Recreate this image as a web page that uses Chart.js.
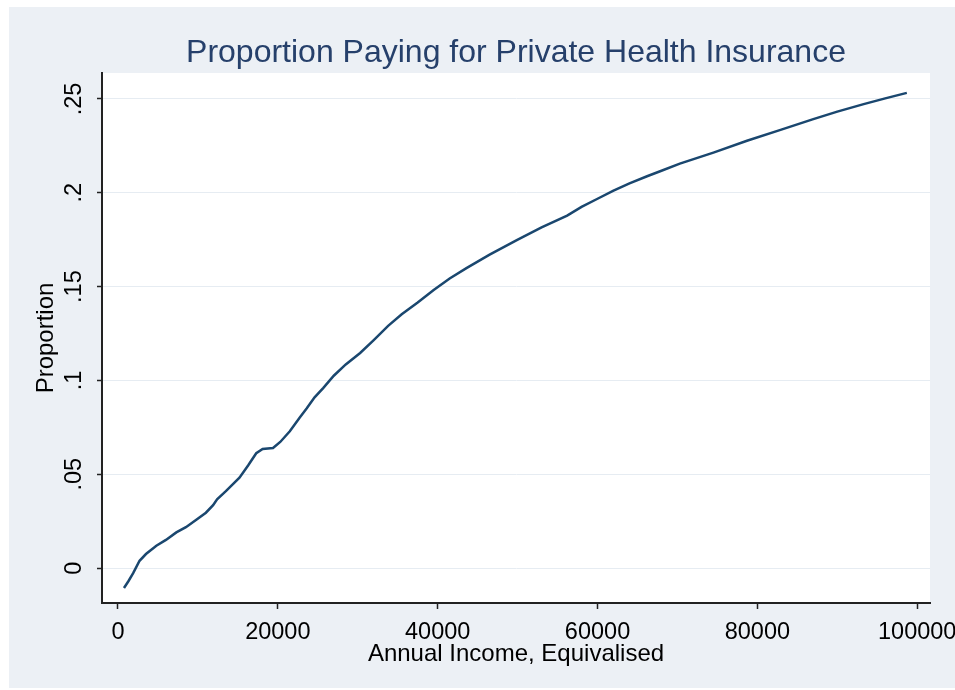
<!DOCTYPE html>
<html>
<head>
<meta charset="utf-8">
<script src="https://cdn.jsdelivr.net/npm/chart.js@4/dist/chart.umd.min.js"></script>
<style>
  html, body { margin: 0; padding: 0; background: #ffffff; }
  #wrap { width: 955px; height: 690px; position: relative; }
</style>
</head>
<body>
<div id="wrap"><canvas id="c" width="955" height="690"></canvas></div>
<script>
// ---- Data ----
const incomeValues = [750, 1300, 1900, 2700, 3500, 4800, 6000, 7300, 8500, 9800, 11000, 11900, 12400, 13500, 15200, 16300, 17300, 18100, 19400, 20300, 21500, 22700, 23600, 24600, 25700, 27000, 28500, 30300, 32000, 33800, 35500, 37500, 39500, 41500, 43600, 46500, 49900, 53000, 56200, 58000, 60000, 62000, 64000, 66200, 68000, 70300, 74500, 78700, 82900, 87000, 90000, 93300, 96000, 98700];
const proportionValues = [-0.0106, -0.0070, -0.0027, 0.0039, 0.0075, 0.0119, 0.0150, 0.0190, 0.0218, 0.0258, 0.0295, 0.0335, 0.0367, 0.0410, 0.0482, 0.0548, 0.0612, 0.0635, 0.0640, 0.0672, 0.0729, 0.0800, 0.0850, 0.0910, 0.0960, 0.1025, 0.1085, 0.1146, 0.1215, 0.1291, 0.1352, 0.1415, 0.1482, 0.1543, 0.1598, 0.1670, 0.1748, 0.1815, 0.1878, 0.1925, 0.1968, 0.2011, 0.2050, 0.2088, 0.2117, 0.2155, 0.2214, 0.2277, 0.2335, 0.2392, 0.2432, 0.2472, 0.2503, 0.2532];
const xTickValues = [0, 20000, 40000, 60000, 80000, 100000];
const yTickValues = [0, 0.05, 0.1, 0.15, 0.2, 0.25];
const yTickLabels = ['0', '.05', '.1', '.15', '.2', '.25'];
const chartTitle = 'Proportion Paying for Private Health Insurance';
const xTitle = 'Annual Income, Equivalised';
const yTitle = 'Proportion';

const points = incomeValues.map((x, i) => ({ x: x, y: proportionValues[i] }));

const bgPlugin = {
  id: 'bg',
  beforeDraw(chart) {
    const { ctx, chartArea } = chart;
    ctx.save();
    ctx.fillStyle = '#ffffff';
    ctx.fillRect(0, 0, chart.width, chart.height);
    ctx.fillStyle = '#ECF0F5';
    ctx.fillRect(9, 7, chart.width - 9, chart.height - 9);
    ctx.fillStyle = '#ffffff';
    ctx.fillRect(chartArea.left, chartArea.top, chartArea.right - chartArea.left, chartArea.bottom - chartArea.top);
    ctx.restore();
  }
};

const tickFont = { family: 'Liberation Sans', size: 23.5 };
const titleFont = { family: 'Liberation Sans', size: 24 };

new Chart(document.getElementById('c'), {
  type: 'line',
  data: {
    datasets: [{
      data: points,
      borderColor: '#1A476F',
      borderWidth: 2.5,
      pointRadius: 0,
      tension: 0,
      fill: false
    }]
  },
  options: {
    responsive: false,
    animation: false,
    layout: { padding: { left: 0, right: 25, top: 0, bottom: 0 } },
    plugins: {
      legend: { display: false },
      tooltip: { enabled: false },
      title: {
        display: true,
        fullSize: false,
        text: chartTitle,
        color: '#26406B',
        font: { family: 'Liberation Sans', size: 32, weight: 'normal' },
        padding: { top: 33.5, bottom: 1.1 }
      }
    },
    scales: {
      x: {
        type: 'linear',
        min: -2000,
        max: 101600,
        afterFit(scale) { scale.height = 87; scale.paddingLeft = 0; scale.paddingRight = 0; },
        afterBuildTicks(scale) { scale.ticks = xTickValues.map(v => ({ value: v })); },
        ticks: {
          includeBounds: false,
          color: '#000',
          font: tickFont,
          padding: 9,
          maxRotation: 0,
          callback: (v) => String(v)
        },
        grid: { display: true, drawOnChartArea: false, color: 'rgba(0,0,0,0)', tickColor: '#222', tickLength: 6, tickWidth: 1.5 },
        border: { display: true, color: '#222', width: 2 },
        title: { display: true, text: xTitle, color: '#000', font: titleFont, padding: { top: 0, bottom: 21.6 } }
      },
      y: {
        type: 'linear',
        min: -0.0186,
        max: 0.2638,
        afterFit(scale) { scale.width = 102; scale.paddingTop = 0; scale.paddingBottom = 0; },
        afterBuildTicks(scale) { scale.ticks = yTickValues.map(v => ({ value: v })); },
        ticks: {
          includeBounds: false,
          color: '#000',
          font: tickFont,
          padding: 5.7,
          minRotation: 90,
          maxRotation: 90,
          crossAlign: 'center',
          callback: (v) => { const i = yTickValues.findIndex(t => Math.abs(t - v) < 1e-9); return i >= 0 ? yTickLabels[i] : ''; }
        },
        grid: { display: true, color: '#E6ECF2', lineWidth: 1, tickColor: '#222', tickLength: 5, tickWidth: 1.5 },
        border: { display: true, color: '#222', width: 2 },
        title: { display: true, text: yTitle, color: '#000', font: titleFont, padding: { top: 31.6, bottom: 0 } }
      }
    }
  },
  plugins: [bgPlugin]
});
</script>
</body>
</html>
